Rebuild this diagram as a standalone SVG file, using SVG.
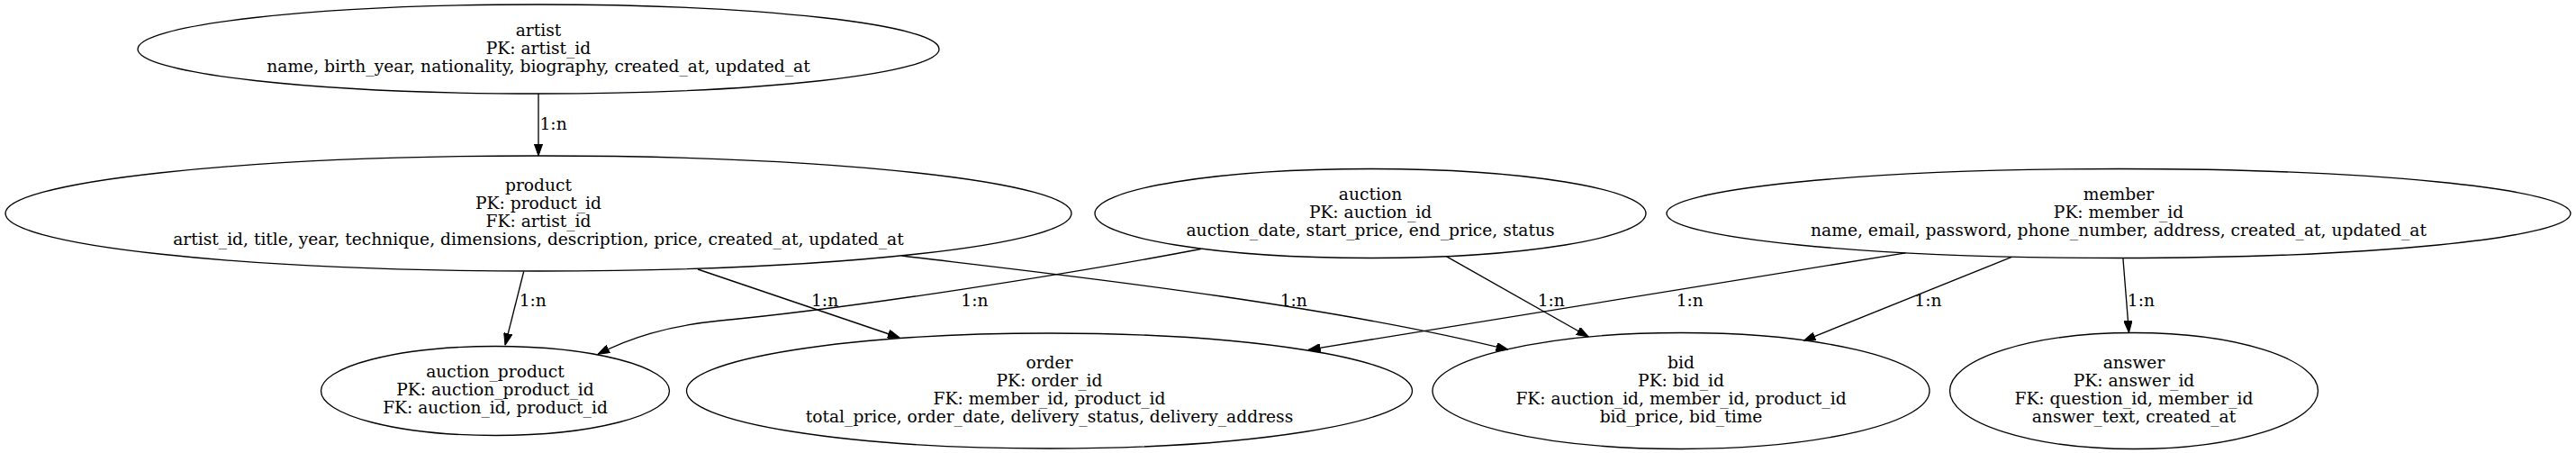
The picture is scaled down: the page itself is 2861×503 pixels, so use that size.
<svg xmlns="http://www.w3.org/2000/svg" width="2861" height="503" viewBox="0 0 2861 503">
<style>
.n ellipse{fill:none;stroke:#000;stroke-width:1.33}
text{font-family:"DejaVu Serif","Liberation Serif",serif;font-size:18.67px;fill:#000}
.n text{text-anchor:middle}
.e path{fill:none;stroke:#000;stroke-width:1.33}
</style>
<defs>
<marker id="ah" viewBox="0 0 13.3 9.4" refX="13.3" refY="4.7" markerWidth="13.3" markerHeight="9.4" markerUnits="userSpaceOnUse" orient="auto">
<path d="M0,0 L13.3,4.7 L0,9.4 Z" fill="#000" stroke="#000" stroke-width="1"/>
</marker>
</defs>
<rect width="2861" height="503" fill="#fff"/>
<g id="edges" class="e">
<path d="M598,104 L598,173" marker-end="url(#ah)"/>
<path d="M581.7,301.5 L561,383.3" marker-end="url(#ah)"/>
<path d="M775,299 L999.3,375" marker-end="url(#ah)"/>
<path d="M1001.7,284 C1150,302 1460,335 1675,388.3" marker-end="url(#ah)"/>
<path d="M1333.6,276.5 C1200,302 950,342 800,356 C740,362 700,375 664,393.3" marker-end="url(#ah)"/>
<path d="M1606.7,284.8 L1764.3,374" marker-end="url(#ah)"/>
<path d="M2116.4,280.8 L1453.3,388.3" marker-end="url(#ah)"/>
<path d="M2234.3,285.3 L2003.3,378.3" marker-end="url(#ah)"/>
<path d="M2357.9,286.7 L2364.5,369.3" marker-end="url(#ah)"/>
<text x="599.5" y="143.5">1:n</text>
<text x="576.7" y="340">1:n</text>
<text x="901" y="340">1:n</text>
<text x="1067.3" y="340">1:n</text>
<text x="1421.7" y="340">1:n</text>
<text x="1707.7" y="340">1:n</text>
<text x="1861.7" y="340">1:n</text>
<text x="2126.3" y="340">1:n</text>
<text x="2362.8" y="340">1:n</text>
</g>
<g id="artist" class="n">
<ellipse cx="598" cy="54.5" rx="445" ry="49.5"/>
<text x="598" y="39.8">artist</text>
<text x="598" y="59.8">PK: artist_id</text>
<text x="598" y="79.8">name, birth_year, nationality, biography, created_at, updated_at</text>
</g>
<g id="product" class="n">
<ellipse cx="598" cy="237" rx="592" ry="64"/>
<text x="598" y="212.3">product</text>
<text x="598" y="232.3">PK: product_id</text>
<text x="598" y="252.3">FK: artist_id</text>
<text x="598" y="272.3">artist_id, title, year, technique, dimensions, description, price, created_at, updated_at</text>
</g>
<g id="auction" class="n">
<ellipse cx="1522" cy="237" rx="306" ry="49.5"/>
<text x="1522" y="222.3">auction</text>
<text x="1522" y="242.3">PK: auction_id</text>
<text x="1522" y="262.3">auction_date, start_price, end_price, status</text>
</g>
<g id="member" class="n">
<ellipse cx="2353" cy="237" rx="502" ry="49.5"/>
<text x="2353" y="222.3">member</text>
<text x="2353" y="242.3">PK: member_id</text>
<text x="2353" y="262.3">name, email, password, phone_number, address, created_at, updated_at</text>
</g>
<g id="auction_product" class="n">
<ellipse cx="550" cy="434" rx="193.5" ry="49.5"/>
<text x="550" y="419.3">auction_product</text>
<text x="550" y="439.3">PK: auction_product_id</text>
<text x="550" y="459.3">FK: auction_id, product_id</text>
</g>
<g id="order" class="n">
<ellipse cx="1165.5" cy="434" rx="403" ry="64"/>
<text x="1165.5" y="409.3">order</text>
<text x="1165.5" y="429.3">PK: order_id</text>
<text x="1165.5" y="449.3">FK: member_id, product_id</text>
<text x="1165.5" y="469.3">total_price, order_date, delivery_status, delivery_address</text>
</g>
<g id="bid" class="n">
<ellipse cx="1867" cy="434" rx="276" ry="64.5"/>
<text x="1867" y="409.3">bid</text>
<text x="1867" y="429.3">PK: bid_id</text>
<text x="1867" y="449.3">FK: auction_id, member_id, product_id</text>
<text x="1867" y="469.3">bid_price, bid_time</text>
</g>
<g id="answer" class="n">
<ellipse cx="2370" cy="434" rx="204.5" ry="64.5"/>
<text x="2370" y="409.3">answer</text>
<text x="2370" y="429.3">PK: answer_id</text>
<text x="2370" y="449.3">FK: question_id, member_id</text>
<text x="2370" y="469.3">answer_text, created_at</text>
</g>
</svg>
